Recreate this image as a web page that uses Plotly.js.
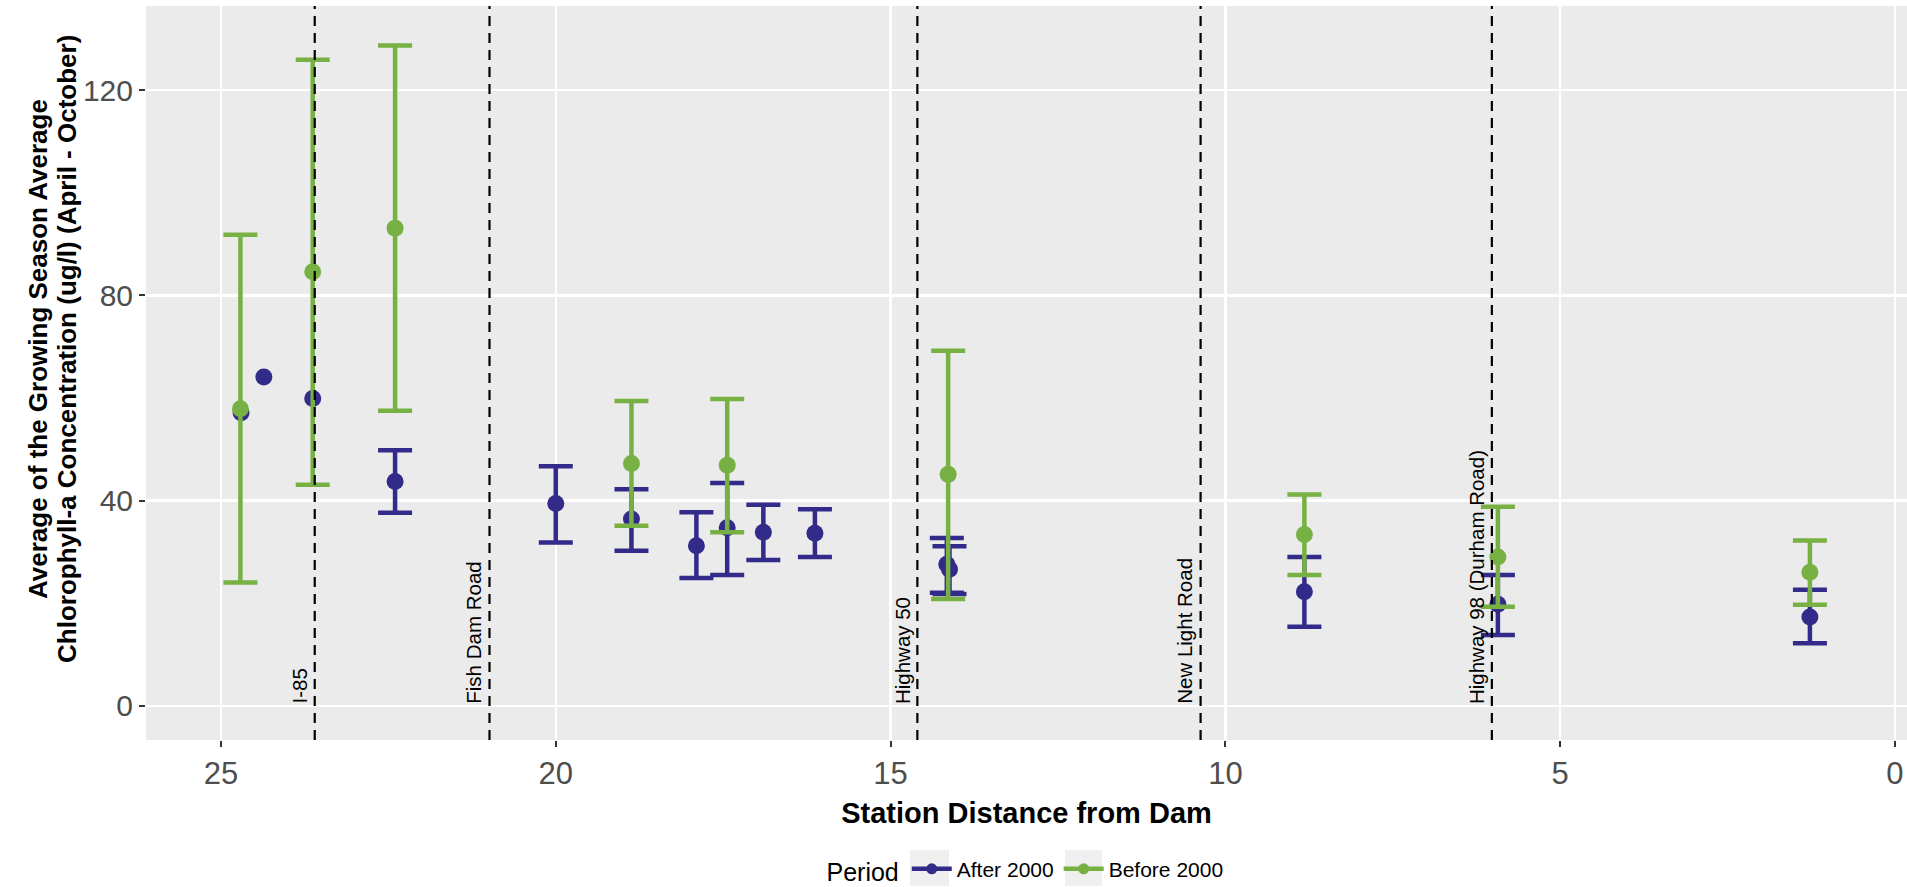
<!DOCTYPE html>
<html>
<head>
<meta charset="utf-8">
<script src="https://cdn.plot.ly/plotly-3.0.1.min.js"></script>
<style>
  html, body { margin: 0; padding: 0; background: #ffffff; }
  #chart { width: 1907px; height: 887px; }
</style>
</head>
<body>
<div id="chart"></div>
<script>
// ---- Data ----
// After 2000 stations (null = no error bar)
const afterX     = [24.70, 24.36, 23.63, 22.40, 20.00, 18.87, 17.90, 17.44, 16.90, 16.13, 14.16, 14.12, 8.82, 5.93, 1.27];
const afterMean  = [57.1, 64.1, 59.9, 43.7, 39.4, 36.4, 31.2, 34.7, 33.8, 33.6, 27.6, 26.6, 22.2, 19.8, 17.3];
const afterUpper = [null, null, null, 49.8, 46.7, 42.2, 37.7, 43.4, 39.2, 38.3, 32.7, 31.1, 29.0, 25.5, 22.6];
const afterLower = [null, null, null, 37.6, 31.8, 30.2, 24.9, 25.5, 28.4, 29.0, 22.0, 21.8, 15.4, 13.8, 12.2];

// Before 2000 stations
const beforeX     = [24.71, 23.63, 22.40, 18.87, 17.44, 14.14, 8.82, 5.93, 1.27];
const beforeMean  = [57.9, 84.6, 93.1, 47.2, 46.9, 45.1, 33.4, 29.0, 26.0];
const beforeUpper = [91.8, 125.9, 128.7, 59.4, 59.8, 69.2, 41.2, 38.8, 32.2];
const beforeLower = [24.0, 43.1, 57.5, 35.1, 33.8, 20.8, 25.5, 19.3, 19.7];

// Road crossings (distance from dam)
const roadX     = [23.60, 20.99, 14.60, 10.37, 6.02];
const roadNames = ["I-85", "Fish Dam Road", "Highway 50", "New Light Road", "Highway 98 (Durham Road)"];

// Axis ticks
const xTicks = [25, 20, 15, 10, 5, 0];
const yTicks = [0, 40, 80, 120];

const periodNames = ["After 2000", "Before 2000"];
const yTitleLines = ["Average of the Growing Season Average", "Chlorophyll-a Concentration (ug/l) (April - October)"];
const xTitle = "Station Distance from Dam";

// ---- Styles ----
const COL_AFTER = "#332B8A";
const COL_BEFORE = "#77B143";
const FONT = "Liberation Sans, Arial, Helvetica, sans-serif";

function errPlus(mean, upper) {
  return mean.map((m, i) => (upper[i] === null ? NaN : upper[i] - m));
}
function errMinus(mean, lower) {
  return mean.map((m, i) => (lower[i] === null ? NaN : m - lower[i]));
}

function dataTrace(x, mean, upper, lower, color, name) {
  return {
    type: "scatter",
    mode: "markers",
    x: x,
    y: mean,
    name: name,
    legendgroup: name,
    showlegend: false,
    marker: { color: color, size: 17 },
    error_y: {
      type: "data",
      symmetric: false,
      array: errPlus(mean, upper),
      arrayminus: errMinus(mean, lower),
      color: color,
      thickness: 4.5,
      width: 17
    },
    hoverinfo: "x+y"
  };
}

function legendTrace(color, name) {
  return {
    type: "scatter",
    mode: "lines+markers",
    x: [null],
    y: [null],
    name: name,
    legendgroup: name,
    showlegend: true,
    line: { color: color, width: 4.5 },
    marker: { color: color, size: 11 }
  };
}

const traces = [
  dataTrace(afterX, afterMean, afterUpper, afterLower, COL_AFTER, periodNames[0]),
  dataTrace(beforeX, beforeMean, beforeUpper, beforeLower, COL_BEFORE, periodNames[1]),
  legendTrace(COL_AFTER, periodNames[0]),
  legendTrace(COL_BEFORE, periodNames[1])
];

// plot area geometry in pixels (for paper-referenced decorations)
const PLOT_L = 146, PLOT_T = 6, PLOT_W = 1907 - 146, PLOT_H = 740 - 6;
const px2paperX = px => (px - PLOT_L) / PLOT_W;
const px2paperY = py => (PLOT_T + PLOT_H - py) / PLOT_H;

const shapes = roadX.map(x => ({
  type: "line",
  xref: "x", yref: "paper",
  x0: x, x1: x, y0: 0, y1: 1,
  line: { color: "#000000", width: 2.2, dash: "10px,7px" },
  layer: "above"
}));

// grey legend key backgrounds (ggplot style)
[[910, 949], [1065, 1102]].forEach(([a, b]) => {
  shapes.push({
    type: "rect", xref: "paper", yref: "paper",
    x0: px2paperX(a), x1: px2paperX(b),
    y0: px2paperY(886), y1: px2paperY(850),
    fillcolor: "#EFEFEF", line: { width: 0 }, layer: "below"
  });
});

const annotations = roadX.map((x, i) => ({
  x: x, y: 0, xref: "x", yref: "y",
  text: roadNames[i],
  textangle: -90,
  showarrow: false,
  xanchor: "right",
  yanchor: "bottom",
  xshift: -2,
  font: { family: FONT, size: 20.5, color: "#000000" }
}));

// y-axis title as two rotated lines
const yTitleCenter = px2paperY(349);
[38, 67].forEach((cx, i) => {
  annotations.push({
    x: px2paperX(cx), y: yTitleCenter, xref: "paper", yref: "paper",
    text: "<b>" + yTitleLines[i] + "</b>",
    textangle: -90, showarrow: false,
    xanchor: "center", yanchor: "middle",
    font: { family: FONT, size: 26, color: "#000000" }
  });
});

const layout = {
  width: 1907,
  height: 887,
  margin: { l: PLOT_L, r: 0, t: PLOT_T, b: 887 - PLOT_T - PLOT_H },
  paper_bgcolor: "#ffffff",
  plot_bgcolor: "#EBEBEB",
  font: { family: FONT, color: "#000000" },
  showlegend: true,
  xaxis: {
    range: [26.12, -0.18],
    tickmode: "array",
    tickvals: xTicks,
    ticktext: xTicks.map(String),
    ticks: "outside",
    ticklen: 6,
    tickwidth: 2,
    tickcolor: "#333333",
    tickfont: { family: FONT, size: 31, color: "#4D4D4D" },
    showgrid: true,
    gridcolor: "#ffffff",
    gridwidth: 2.4,
    zeroline: false,
    showline: false,
    automargin: false,
    title: {
      text: xTitle,
      font: { family: FONT, size: 29, color: "#000000", weight: "bold" },
      standoff: 12
    }
  },
  yaxis: {
    range: [-6.68, 136.4],
    tickmode: "array",
    tickvals: yTicks,
    ticktext: yTicks.map(String),
    ticks: "outside",
    ticklen: 6,
    tickwidth: 2,
    tickcolor: "#333333",
    tickfont: { family: FONT, size: 30, color: "#4D4D4D" },
    showgrid: true,
    gridcolor: "#ffffff",
    gridwidth: 2.4,
    zeroline: false,
    showline: false,
    automargin: false
  },
  legend: {
    orientation: "h",
    x: 0.5,
    xanchor: "center",
    xref: "paper",
    y: 0.019,
    yref: "container",
    yanchor: "middle",
    title: { text: "Period", side: "left", font: { family: FONT, size: 25, color: "#000000" } },
    font: { family: FONT, size: 21, color: "#000000" },
    itemwidth: 40,
    bgcolor: "rgba(0,0,0,0)"
  },
  shapes: shapes,
  annotations: annotations
};

Plotly.newPlot("chart", traces, layout, { displayModeBar: false, staticPlot: true });
</script>
</body>
</html>
